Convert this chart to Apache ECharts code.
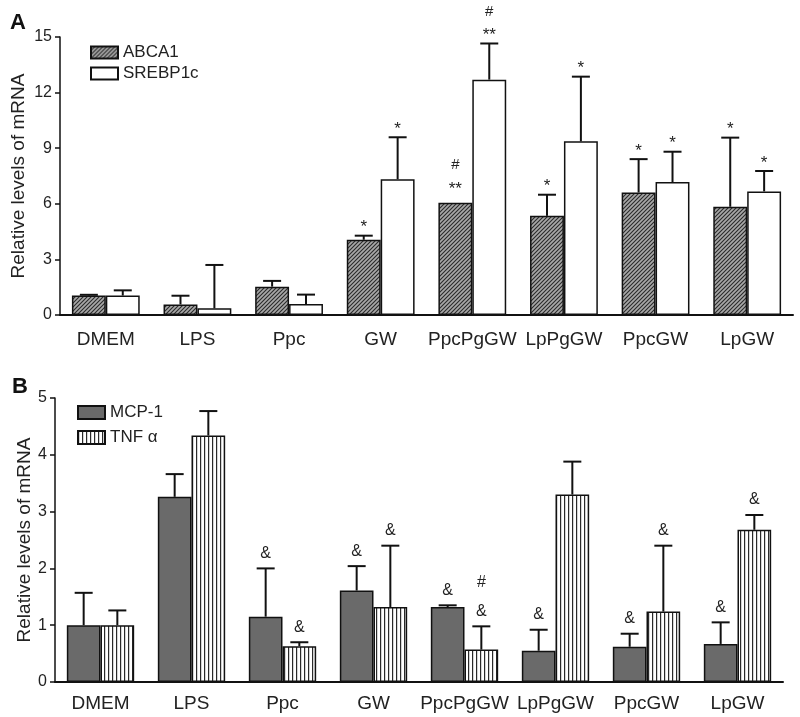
<!DOCTYPE html>
<html><head><meta charset="utf-8">
<script src="https://cdn.jsdelivr.net/npm/echarts@6/dist/echarts.min.js"></script>
<style>html,body{margin:0;padding:0;background:#fff}#c{width:800px;height:717px}</style>
</head><body><div id="c"></div>
<script>
// ---------- data ----------
const categories = ['DMEM', 'LPS', 'Ppc', 'GW', 'PpcPgGW', 'LpPgGW', 'PpcGW', 'LpGW'];

// Panel A
const abca1     = [1.05, 0.57, 1.53, 4.06, 6.05, 5.35, 6.61, 5.84];
const abca1Err  = [0.04, 0.47, 0.31, 0.22, 0.00, 1.14, 1.80, 3.73];
const srebp1c    = [1.05, 0.36, 0.59, 7.33, 12.70, 9.37, 7.17, 6.67];
const srebp1cErr = [0.28, 2.34, 0.51, 2.26, 1.95, 3.49, 1.64, 1.10];
const abca1Marks   = [[], [], [], ['*'], ['**', '#'], ['*'], ['*'], ['*']];
const srebp1cMarks = [[], [], [], ['*'], ['**', '#'], ['*'], ['*'], ['*']];
const yTicksA = [0, 3, 6, 9, 12, 15];

// Panel B
const mcp1    = [1.00, 3.26, 1.15, 1.61, 1.32, 0.55, 0.62, 0.67];
const mcp1Err = [0.57, 0.40, 0.85, 0.43, 0.03, 0.37, 0.23, 0.38];
const tnfa    = [1.00, 4.34, 0.63, 1.32, 0.57, 3.30, 1.24, 2.68];
const tnfaErr = [0.26, 0.43, 0.07, 1.08, 0.41, 0.58, 1.16, 0.26];
const mcp1Marks = [[], [], ['&'], ['&'], ['&'], ['&'], ['&'], ['&']];
const tnfaMarks = [[], [], ['&'], ['&'], ['&', '#'], [], ['&'], ['&']];
const yTicksB = [0, 1, 2, 3, 4, 5];

// ---------- styling ----------
const FONT = "'Liberation Sans', Arial, sans-serif";
const BAR_FRAC = 0.37;

function hatchPattern() {
  const c = document.createElement('canvas');
  c.width = 4; c.height = 4;
  const g = c.getContext('2d');
  g.fillStyle = '#a8a8a8'; g.fillRect(0, 0, 4, 4);
  g.strokeStyle = '#2a2a2a'; g.lineWidth = 1.1;
  g.beginPath();
  g.moveTo(-1, 5); g.lineTo(5, -1);
  g.moveTo(-1, 1); g.lineTo(1, -1);
  g.moveTo(3, 5); g.lineTo(5, 3);
  g.stroke();
  return { image: c, repeat: 'repeat' };
}
function stripePattern() {
  const c = document.createElement('canvas');
  c.width = 4; c.height = 4;
  const g = c.getContext('2d');
  g.fillStyle = '#ffffff'; g.fillRect(0, 0, 4, 4);
  g.fillStyle = '#2a2a2a'; g.fillRect(0, 0, 1.2, 4);
  return { image: c, repeat: 'repeat' };
}

function barSeries(name, idx, data, color) {
  return {
    type: 'bar', name, xAxisIndex: idx, yAxisIndex: idx, data,
    barWidth: (BAR_FRAC * 100) + '%', barGap: '0%',
    itemStyle: { color, borderColor: '#111', borderWidth: 1.5 },
    emphasis: { disabled: true }, z: 2
  };
}

function errSeries(name, idx, vals, errs, marks, side, opts) {
  return {
    type: 'custom', name, xAxisIndex: idx, yAxisIndex: idx, z: 10, silent: true,
    data: vals.map((v, i) => [i, v, errs[i]]),
    encode: { x: 0, y: 1 },
    renderItem(params, api) {
      const i = api.value(0), v = api.value(1), e = api.value(2);
      const band = api.size([1, 0])[0];
      const bw = band * BAR_FRAC;
      const base = api.coord([i, v]);
      const x = base[0] + side * bw / 2;
      const yTop = api.coord([i, v + e])[1];
      const children = [];
      if (e > 0.001) {
        children.push({ type: 'line', shape: { x1: x, y1: base[1], x2: x, y2: yTop }, style: { stroke: '#111', lineWidth: 2 } });
        children.push({ type: 'line', shape: { x1: x - 9, y1: yTop, x2: x + 9, y2: yTop }, style: { stroke: '#111', lineWidth: 2 } });
      }
      let y = yTop - (e > 0.001 ? opts.first : opts.firstNoErr);
      (marks[i] || []).forEach(m => {
        const isStar = m.indexOf('*') >= 0;
        children.push({
          type: 'text', x, y: y + (isStar ? opts.starShift : 0),
          style: { text: m, fill: '#222', fontSize: isStar ? opts.starSize : opts.size, fontFamily: FONT, align: 'center', verticalAlign: 'middle' }
        });
        y -= opts.step;
      });
      return { type: 'group', children };
    }
  };
}

const optsA = { first: 12, firstNoErr: 18, step: 20, size: 15, starSize: 17, starShift: 4 };
const optsB = { first: 15, firstNoErr: 15, step: 29, size: 16, starSize: 16, starShift: 4 };

function yAxis(idx, ticks, gap) {
  return {
    type: 'value', gridIndex: idx, min: ticks[0], max: ticks[ticks.length - 1],
    interval: ticks[1] - ticks[0],
    name: 'Relative levels of mRNA', nameLocation: 'middle', nameGap: gap, nameRotate: 90,
    nameMoveOverlap: false,
    nameTextStyle: { fontSize: 19, fontFamily: FONT, color: '#222' },
    axisLine: { show: true, lineStyle: { color: '#111', width: 1.5 } },
    axisTick: { show: true, length: 5, lineStyle: { color: '#111', width: 1.5 } },
    axisLabel: { fontSize: 16, fontFamily: FONT, color: '#222', margin: 8 },
    splitLine: { show: false }
  };
}
function xAxis(idx, margin) {
  return {
    type: 'category', gridIndex: idx, data: categories,
    axisLine: { show: true, lineStyle: { color: '#111', width: 2 } },
    axisTick: { show: false },
    axisLabel: { fontSize: 19, fontFamily: FONT, color: '#222', margin, interval: 0 }
  };
}

const hatch = hatchPattern();
const stripes = stripePattern();

const option = {
  animation: false,
  backgroundColor: '#fff',
  title: [
    { text: 'A', left: 5, top: 7, textStyle: { fontSize: 22, fontWeight: 'bold', fontFamily: FONT, color: '#111' } },
    { text: 'B', left: 7, top: 371, textStyle: { fontSize: 22, fontWeight: 'bold', fontFamily: FONT, color: '#111' } }
  ],
  legend: [
    { data: ['ABCA1', 'SREBP1c'], orient: 'vertical', left: 85, top: 39, itemWidth: 27, itemHeight: 12, itemGap: 4,
      icon: 'rect', textStyle: { fontSize: 17, fontFamily: FONT, color: '#222', lineHeight: 17 }, selectedMode: false },
    { data: ['MCP-1', 'TNF α'], orient: 'vertical', left: 72, top: 399, itemWidth: 27, itemHeight: 13, itemGap: 8,
      icon: 'rect', textStyle: { fontSize: 17, fontFamily: FONT, color: '#222', lineHeight: 17 }, selectedMode: false }
  ],
  grid: [
    { left: 60, top: 37, width: 733, height: 278 },
    { left: 55, top: 398, width: 728, height: 284 }
  ],
  xAxis: [xAxis(0, 15), xAxis(1, 12)],
  yAxis: [yAxis(0, yTicksA, 32), yAxis(1, yTicksB, 21)],
  series: [
    barSeries('ABCA1', 0, abca1, hatch),
    barSeries('SREBP1c', 0, srebp1c, '#ffffff'),
    errSeries('errABCA1', 0, abca1, abca1Err, abca1Marks, -1, optsA),
    errSeries('errSREBP1c', 0, srebp1c, srebp1cErr, srebp1cMarks, 1, optsA),
    barSeries('MCP-1', 1, mcp1, '#6a6a6a'),
    barSeries('TNF α', 1, tnfa, stripes),
    errSeries('errMCP1', 1, mcp1, mcp1Err, mcp1Marks, -1, optsB),
    errSeries('errTNF', 1, tnfa, tnfaErr, tnfaMarks, 1, optsB)
  ]
};

const chart = echarts.init(document.getElementById('c'), null, { renderer: 'canvas' });
chart.setOption(option);
</script>
</body></html>
